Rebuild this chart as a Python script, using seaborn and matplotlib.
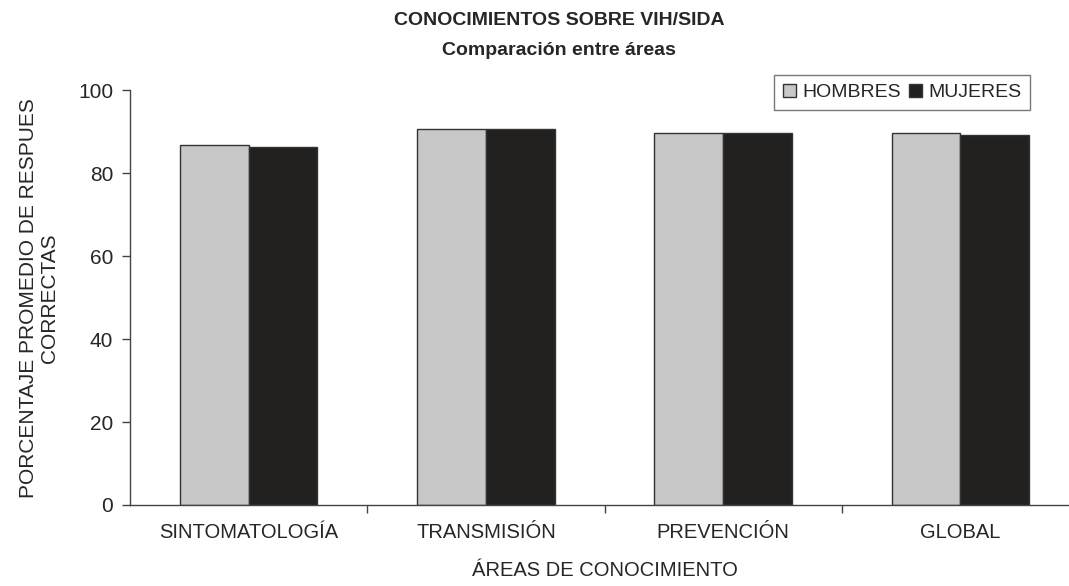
import pandas as pd
import numpy as np
import matplotlib
matplotlib.use("Agg")
import matplotlib.pyplot as plt
import seaborn as sns

# Datos
areas = ["SINTOMATOLOGÍA", "TRANSMISIÓN", "PREVENCIÓN", "GLOBAL"]
hombres = [86.8, 90.6, 89.7, 89.7]
mujeres = [86.4, 90.6, 89.7, 89.3]
grupos = ["HOMBRES", "MUJERES"]
colores = ["#c8c8c8", "#231f20"]

df = pd.DataFrame({
    "area": areas * 2,
    "valor": hombres + mujeres,
    "sexo": [grupos[0]] * len(areas) + [grupos[1]] * len(areas),
})

sns.set_style("white")
plt.rcParams["font.family"] = ["Liberation Sans", "DejaVu Sans"]

fig = plt.figure(figsize=(10.69, 5.86), dpi=100)
ax = fig.add_axes([130 / 1069, 81 / 586, 949 / 1069, 414.5 / 586])

sns.barplot(data=df, x="area", y="valor", hue="sexo", order=areas,
            hue_order=grupos, palette=colores, width=0.58, gap=0,
            edgecolor="#333333", linewidth=1.0, ax=ax)

ax.set_ylim(0, 100)
ax.set_xlim(-0.5, 3.5)
ax.set_yticks([0, 20, 40, 60, 80, 100])
ax.tick_params(axis="y", labelsize=15, length=6, width=1, color="#444444",
               direction="out", left=True, pad=6)
ax.tick_params(axis="x", which="major", labelsize=14.5, length=0, pad=13)
ax.set_xticks([0.5, 1.5, 2.5], minor=True)
ax.tick_params(axis="x", which="minor", length=6, width=1, color="#444444",
               direction="out", bottom=True)

for s in ["top", "right"]:
    ax.spines[s].set_visible(False)
for s in ["left", "bottom"]:
    ax.spines[s].set_color("#444444")
    ax.spines[s].set_linewidth(1)

ax.set_xlabel("ÁREAS DE CONOCIMIENTO", fontsize=14.5, labelpad=14)
ax.set_ylabel("PORCENTAJE PROMEDIO DE RESPUES\nCORRECTAS", fontsize=15,
              labelpad=14, linespacing=1.1)

fig.text(0.523, 0.965, "CONOCIMIENTOS SOBRE VIH/SIDA", ha="center",
         va="center", fontsize=14, fontweight="bold")
fig.text(0.523, 0.913, "Comparación entre áreas", ha="center",
         va="center", fontsize=14, fontweight="bold")

handles, labels = ax.get_legend_handles_labels()
ax.legend(handles, labels, loc="upper right",
          bbox_to_anchor=(1030 / 1069, 1 - 75 / 586),
          bbox_transform=fig.transFigure, ncol=2, fontsize=14,
          frameon=True, fancybox=False, edgecolor="#555555",
          handlelength=0.7, handleheight=0.7, handletextpad=0.3,
          columnspacing=0.4, borderpad=0.45, borderaxespad=0)

fig.savefig("out.png", dpi=100)
